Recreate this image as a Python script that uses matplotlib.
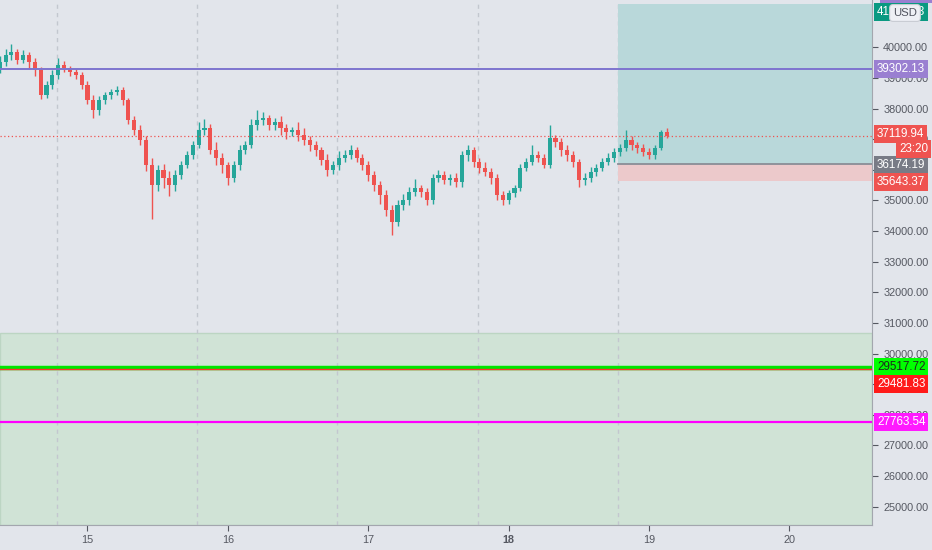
import numpy as np
import matplotlib
matplotlib.use("Agg")
import matplotlib.pyplot as plt
from matplotlib.transforms import blended_transform_factory
from matplotlib.patches import Rectangle

plt.rcParams['font.family'] = ['Liberation Sans', 'DejaVu Sans']

# hourly BTCUSD candles, first one on the 14th at 09:00
opens = [39300, 39520, 39750, 39850, 39590, 39750, 39520, 39260, 38440, 38770,
         39100, 39420, 39320, 39190, 39100, 38770, 38280, 37950, 38280, 38440,
         38540, 38610, 38280, 37630, 37300, 36970, 36160, 35500, 35990, 35730,
         35500, 35830, 36160, 36480, 36810, 37300, 37370, 36650, 36390, 36160,
         35730, 36160, 36650, 36810, 37460, 37630, 37690, 37460, 37560, 37370,
         37240, 37300, 37140, 36970, 36810, 36650, 36320, 35990, 36160, 36390,
         36480, 36650, 36390, 36160, 35830, 35500, 35180, 34690, 34300, 34850,
         35010, 35280, 35410, 35280, 35010, 35730, 35830, 35670, 35730, 35600,
         36480, 36650, 36260, 36060, 35930, 35730, 35180, 35010, 35240, 35410,
         36060, 36260, 36480, 36390, 36160, 37040, 36910, 36650, 36480, 36260,
         35670, 35730, 35930, 36060, 36260, 36390, 36580, 36710, 36970, 36810,
         36710, 36580, 36480, 36710, 37240]
highs = [39700, 39950, 40100, 39950, 39900, 39850, 39650, 39350, 38900, 39250,
         39650, 39550, 39400, 39300, 39200, 38900, 38450, 38400, 38550, 38650,
         38750, 38700, 38350, 37750, 37450, 37100, 36400, 36150, 36200, 35950,
         36000, 36300, 36600, 36950, 37550, 37650, 37500, 36900, 36550, 36250,
         36300, 36800, 36950, 37650, 37950, 37900, 37800, 37700, 37750, 37500,
         37400, 37550, 37350, 37100, 36950, 36750, 36500, 36300, 36600, 36650,
         36800, 36750, 36500, 36300, 35950, 35650, 35350, 34850, 35000, 35200,
         35450, 35700, 35500, 35400, 35850, 36000, 35950, 35850, 35900, 36600,
         36800, 36750, 36400, 36250, 36050, 35850, 35300, 35350, 35500, 36200,
         36400, 36800, 36600, 36500, 37450, 37150, 37050, 36800, 36600, 36350,
         35900, 36100, 36200, 36400, 36550, 36700, 36850, 37300, 37100, 36900,
         36850, 36700, 36800, 37300, 37380]
lows = [39150, 39400, 39600, 39450, 39500, 39300, 39050, 38300, 38350, 38650,
        38950, 39200, 39050, 38950, 38650, 38150, 37700, 37800, 38150, 38300,
        38450, 38100, 37500, 37150, 36800, 35950, 34400, 35300, 35400, 35150,
        35300, 35700, 36050, 36350, 36700, 37150, 36500, 36150, 35900, 35500,
        35600, 36000, 36500, 36700, 37300, 37450, 37300, 37300, 37150, 37000,
        37100, 36950, 36800, 36600, 36450, 36150, 35800, 35850, 36000, 36250,
        36350, 36250, 36000, 35650, 35300, 34900, 34500, 33870, 34150, 34700,
        34850, 35150, 35100, 34850, 34900, 35600, 35550, 35500, 35450, 35450,
        36300, 36100, 35900, 35800, 35550, 35000, 34850, 34900, 35100, 35300,
        35950, 36150, 36250, 36050, 36050, 36750, 36450, 36300, 36100, 35450,
        35500, 35600, 35800, 35950, 36150, 36250, 36450, 36600, 36650, 36550,
        36450, 36350, 36350, 36650, 37050]
closes = [39520, 39750, 39850, 39590, 39750, 39520, 39260, 38440, 38770, 39100,
          39420, 39320, 39190, 39100, 38770, 38280, 37950, 38280, 38440, 38540,
          38610, 38280, 37630, 37300, 36970, 36160, 35500, 35990, 35730, 35500,
          35830, 36160, 36480, 36810, 37300, 37370, 36650, 36390, 36160, 35730,
          36160, 36650, 36810, 37460, 37630, 37690, 37460, 37560, 37370, 37240,
          37300, 37140, 36970, 36810, 36650, 36320, 35990, 36160, 36390, 36480,
          36650, 36390, 36160, 35830, 35500, 35180, 34690, 34300, 34850, 35010,
          35280, 35410, 35280, 35010, 35730, 35830, 35670, 35730, 35600, 36480,
          36650, 36260, 36060, 35930, 35730, 35180, 35010, 35240, 35410, 36060,
          36260, 36480, 36390, 36160, 37040, 36910, 36650, 36480, 36260, 35670,
          35730, 35930, 36060, 36260, 36390, 36580, 36710, 36970, 36810, 36710,
          36580, 36480, 36710, 37240, 37119.94]

start_day = 14.375
day_ticks = [15, 16, 17, 18, 19, 20]
price_ticks = list(range(25000, 41000, 1000))
grid_days = [14.78, 15.78, 16.78, 17.78, 18.78]

# drawn levels
resistance = 39302.13
last_price = 37119.94
entry = 36174.19
stop = 35643.37
target = 41413.93
green_level = 29517.72
red_level = 29481.83
magenta_level = 27763.54
zone_top = 30670
box_start = 18.78

bg = '#e2e5eb'
up_col = '#26a69a'
down_col = '#ef5350'
fs = 7.8

fig = plt.figure(figsize=(9.32, 5.5), dpi=100, facecolor=bg)
ax = fig.add_axes([0, 25 / 550, 872 / 932, 525 / 550])
ax.set_facecolor(bg)
ax.set_xlim(14.377, 20.588)
ax.set_ylim(24404, 41544)

# support zone
ax.axhspan(ax.get_ylim()[0], zone_top, fc='#d0e3d6', ec='#bcd5c3', lw=1, zorder=1)

for d in grid_days:
    ax.axvline(d, color='#c3c7cf', lw=1, ls=(0, (3, 3)), zorder=1.5)

# long position tool
x_end = ax.get_xlim()[1]
ax.add_patch(Rectangle((box_start, entry), x_end - box_start, target - entry,
                       fc='#b9d8da', ec='none', zorder=2))
ax.add_patch(Rectangle((box_start, stop), x_end - box_start, entry - stop,
                       fc='#ecc9cb', ec='none', zorder=2))
ax.plot([box_start, x_end], [entry, entry], color='#8a8d96', lw=1.3, zorder=2.2)

# candles
o = np.array(opens)
h = np.array(highs)
l = np.array(lows)
c = np.array(closes)
t = start_day + np.arange(len(c)) / 24
cols = np.where(c >= o, up_col, down_col)
ax.vlines(t, l, h, colors=cols, lw=1, zorder=3)
body = np.abs(c - o)
body = np.maximum(body, 25)
ax.bar(t, body, bottom=np.minimum(o, c), width=0.7 / 24, color=cols, zorder=3.1)

# horizontal lines
ax.axhline(resistance, color='#7e74cf', lw=1.4, zorder=4)
ax.axhline(last_price, color=down_col, lw=0.9, ls=(0, (1, 2)), zorder=4)
ax.axhline(green_level, color='#00e600', lw=3.2, zorder=4)
ax.axhline(red_level, color='#ff3030', lw=1.0, zorder=4.1)
ax.axhline(magenta_level, color='#ff00ff', lw=1.6, zorder=4)

# axes styling
for s in ['top', 'left']:
    ax.spines[s].set_visible(False)
ax.spines['right'].set_color('#a3a6ae')
ax.spines['bottom'].set_color('#a3a6ae')
ax.yaxis.tick_right()
ax.set_yticks(price_ticks)
ax.set_yticklabels(['%.2f' % v for v in price_ticks])
ax.set_xticks(day_ticks)
ax.set_xticklabels([str(d) for d in day_ticks])
for lab in ax.get_xticklabels():
    if lab.get_text() == '18':
        lab.set_fontweight('bold')
ax.tick_params(axis='y', colors='#555861', labelsize=fs, length=4, pad=4, width=0.8)
ax.tick_params(axis='x', colors='#555861', labelsize=fs, length=4, pad=3, width=0.8)
for tl in ax.get_yticklines() + ax.get_xticklines():
    tl.set_color('#9598a1')

# price labels on the scale
tr = blended_transform_factory(ax.transAxes, ax.transData)
lx = 1 + 5 / 872


def price_label(y, text, fc, tc='white'):
    ax.text(lx, y, text, transform=tr, ha='left', va='center', fontsize=fs + 0.6,
            color=tc, clip_on=False, zorder=10,
            bbox=dict(boxstyle='square,pad=0.25', fc=fc, ec='none'))


price_label(41150, '%.2f' % target, '#0a9981')
price_label(resistance, '%.2f' % resistance, '#9a7fd1')
price_label(last_price + 60, '%.2f' % last_price, down_col)
price_label(entry - 20, '%.2f' % entry, '#787b86')
price_label(stop - 30, '%.2f' % stop, down_col)
price_label(green_level + 40, '%.2f' % green_level, '#00ff00', '#1e2a1e')
price_label(red_level - 480, '%.2f' % red_level, '#ff1a1a')
price_label(magenta_level, '%.2f' % magenta_level, '#ff1aff')
ax.text(1 + 56 / 872, 36680, '23:20', transform=tr, ha='right', va='center',
        fontsize=fs + 0.6, color='white', clip_on=False, zorder=10,
        bbox=dict(boxstyle='square,pad=0.25', fc=down_col, ec='none'))

# purple sliver of an off-screen label at the very top
fig.patches.append(Rectangle((880 / 932, 547 / 550), 52 / 932, 3 / 550,
                             transform=fig.transFigure, fc='#9a7fd1', ec='none'))
fig.text(905 / 932, 1 - 13 / 550, 'USD', ha='center', va='center', fontsize=fs + 0.4,
         color='#50535e',
         bbox=dict(boxstyle='round,pad=0.3', fc='#eef0f5', ec='#c9ccd3', lw=0.8))

fig.savefig('out.png', dpi=100, facecolor=bg)
